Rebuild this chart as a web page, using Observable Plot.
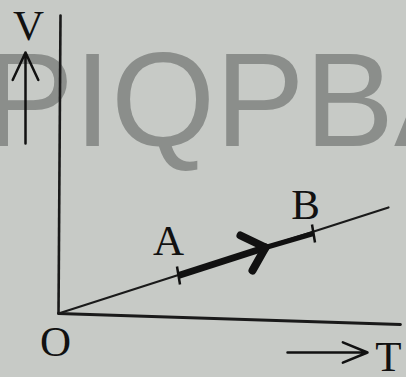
<!DOCTYPE html>
<html><head><meta charset="utf-8">
<script src="https://cdn.jsdelivr.net/npm/d3@7"></script>
<script src="https://cdn.jsdelivr.net/npm/@observablehq/plot@0.6"></script>
<style>html,body{margin:0;padding:0;background:#c7cac6;overflow:hidden}</style>
</head><body><div id="chart"></div>
<script>
// Data (T, V) in abstract units, origin O at (0,0)
const vAxis = [{T: 2, V: 298}, {T: 0, V: 0}];
const tAxis = [{T: 0, V: 0}, {T: 342, V: -11}];
const isobar = [{T: 0, V: 0}, {T: 330, V: 106}];
const pointA = {T: 120, V: 38};
const pointB = {T: 255, V: 80};
const arrowTip = {T: 207, V: 66};
const arrowArms = [{T: 182, V: 78}, {T: 194, V: 43}];
const labels = [
  {T: 110, V: 72, text: "A"},
  {T: 247, V: 108, text: "B"},
  {T: -3, V: -29, text: "O"},
  {T: -30, V: 287, text: "V"},
  {T: 330, V: -44, text: "T"}
];
const vArrow = [{T1: -33, V1: 170, T2: -33, V2: 261}];
const tArrow = [{T1: 229, V1: -39, T2: 309, V2: -39}];
const watermark = [{T: -74, V: 168, text: "PIQPBA"}];

const ticks = [pointA, pointB].map(p => ({T1: p.T - 1.5, V1: p.V + 9, T2: p.T + 1.5, V2: p.V - 9}));

const chart = Plot.plot({
  width: 406, height: 377,
  margin: 0,
  x: {domain: [-58, 348], range: [0, 406], axis: null},
  y: {domain: [-64, 313], range: [377, 0], axis: null},
  style: {background: "#c7cac6", overflow: "hidden"},
  marks: [
    Plot.text(watermark, {x: "T", y: "V", text: "text", textAnchor: "start", lineAnchor: "bottom",
      fontSize: 134, fontFamily: "Liberation Sans, Arial, sans-serif", fill: "#8b8e8b"}),
    Plot.line(vAxis, {x: "T", y: "V", stroke: "#1a1a1a", strokeWidth: 2.6}),
    Plot.line(tAxis, {x: "T", y: "V", stroke: "#1a1a1a", strokeWidth: 2.8}),
    Plot.line(isobar, {x: "T", y: "V", stroke: "#1a1a1a", strokeWidth: 2.2}),
    Plot.link([{T1: pointA.T, V1: pointA.V, T2: arrowTip.T, V2: arrowTip.V}],
      {x1: "T1", y1: "V1", x2: "T2", y2: "V2", stroke: "#111", strokeWidth: 7}),
    Plot.link([{T1: arrowTip.T, V1: arrowTip.V, T2: pointB.T, V2: pointB.V}],
      {x1: "T1", y1: "V1", x2: "T2", y2: "V2", stroke: "#111", strokeWidth: 5}),
    Plot.link(arrowArms.map(a => ({T1: a.T, V1: a.V, T2: arrowTip.T, V2: arrowTip.V})),
      {x1: "T1", y1: "V1", x2: "T2", y2: "V2", stroke: "#111", strokeWidth: 8, strokeLinecap: "round"}),
    Plot.link(ticks, {x1: "T1", y1: "V1", x2: "T2", y2: "V2", stroke: "#111", strokeWidth: 2.5}),
    Plot.arrow(vArrow, {x1: "T1", y1: "V1", x2: "T2", y2: "V2", stroke: "#111", strokeWidth: 2.5,
      headLength: 22, headAngle: 50}),
    Plot.arrow(tArrow, {x1: "T1", y1: "V1", x2: "T2", y2: "V2", stroke: "#111", strokeWidth: 2.5,
      headLength: 20, headAngle: 45}),
    Plot.text(labels, {x: "T", y: "V", text: "text", fontSize: 43,
      fontFamily: "Liberation Serif, Times New Roman, serif", fill: "#111"})
  ]
});
document.getElementById("chart").append(chart);
</script>
</body></html>
